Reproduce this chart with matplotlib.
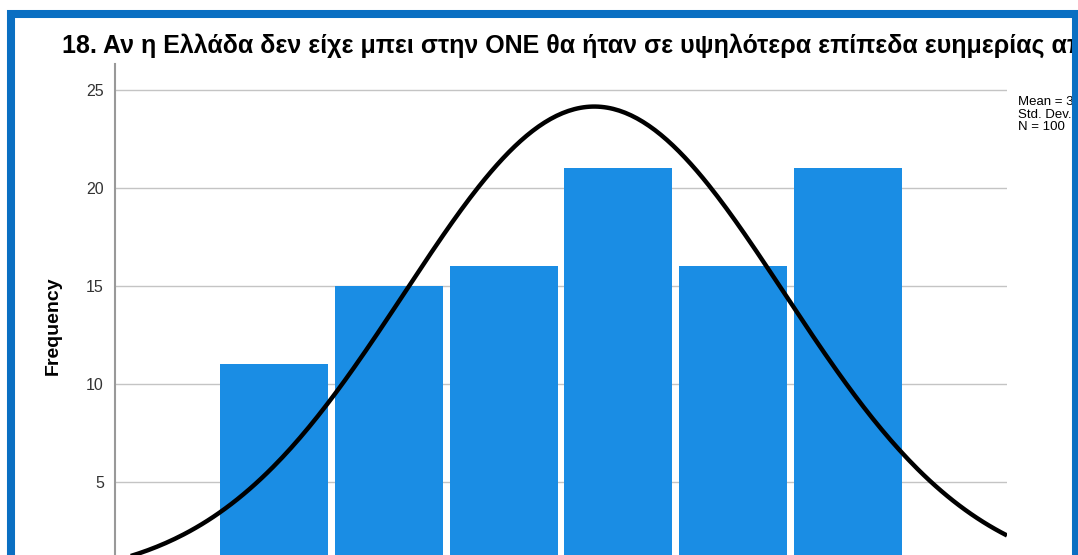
import numpy as np
import matplotlib.pyplot as plt
from matplotlib.patches import Rectangle

plt.rcParams['font.family'] = ['Liberation Sans', 'DejaVu Sans']

# Δεδομένα (τιμές κλίμακας και συχνότητες)
values = [1, 2, 3, 4, 5, 6]
counts = [11, 15, 16, 21, 16, 21]
yticks = [5, 10, 15, 20, 25]
title = "18. Αν η Ελλάδα δεν είχε μπει στην ΟΝΕ θα ήταν σε υψηλότερα επίπεδα ευημερίας από"

# Στατιστικά για την κανονική καμπύλη
vals = np.repeat(values, counts)
N = len(vals)
mean = vals.mean()
sd = vals.std(ddof=1)

W, H = 1078, 555
fig = plt.figure(figsize=(W / 100, H / 100), dpi=100)

# axes σε pixel: αριστερά 115, δεξιά 1007, πάνω 64, το 0 στο y=580 (εκτός εικόνας)
ax = fig.add_axes([115 / W, (H - 580) / H, 892 / W, (580 - 64) / H])
ax.set_xlim(-0.385, 7.385)
ax.set_ylim(0, 26.3)

ax.bar(values, counts, width=0.94, color="#1a8de4", zorder=2)

x = np.linspace(-0.385, 7.385, 300)
y = N * 1.0 / (sd * np.sqrt(2 * np.pi)) * np.exp(-0.5 * ((x - mean) / sd) ** 2)
ax.plot(x, y, color="black", lw=3.2, zorder=3, solid_capstyle="butt")

ax.set_yticks(yticks)
ax.tick_params(axis="y", length=0, pad=8, labelsize=11.5, labelcolor="#333333")
ax.set_xticks([])
ax.grid(axis="y", color="#c4c4c4", lw=1, zorder=1)
for s in ["top", "right", "bottom"]:
    ax.spines[s].set_visible(False)
ax.spines["left"].set_color("#999999")
ax.spines["left"].set_linewidth(1.5)

fig.text(53 / W, 1 - 326 / H, "Frequency", rotation=90, fontsize=14,
         fontweight="bold", ha="center", va="center", color="black")

fig.text(62 / W, 1 - 53 / H, title, fontsize=18, fontweight="bold",
         ha="left", va="baseline")

fig.text(1018 / W, 1 - 105 / H, f"Mean = {mean:.2f}", fontsize=9.5, va="baseline")
fig.text(1018 / W, 1 - 117.5 / H, f"Std. Dev. = {sd:.3f}", fontsize=9.5, va="baseline")
fig.text(1018 / W, 1 - 130 / H, f"N = {N}", fontsize=9.5, va="baseline")

# Μπλε πλαίσιο
fig.patches.append(Rectangle((11 / W, 1 - 557 / H), (1076 - 11) / W, (557 - 13.5) / H,
                             transform=fig.transFigure, fill=False,
                             edgecolor="#0a6fc2", lw=5.8, zorder=10))
# κάλυψη κειμένου έξω από το πλαίσιο
fig.patches.append(Rectangle((1072 / W, 0), 10 / W, 1 - 10 / H, transform=fig.transFigure,
                             facecolor="#0a6fc2", edgecolor="none", zorder=11))

fig.savefig("out.png", dpi=100)
